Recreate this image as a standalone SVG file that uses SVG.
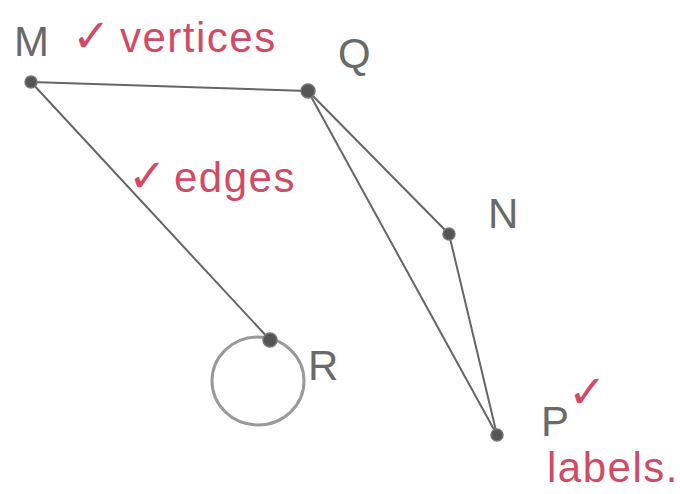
<svg xmlns="http://www.w3.org/2000/svg" width="680" height="494" viewBox="0 0 680 494">
<style>
.edge{stroke:#666;stroke-width:2;fill:none;stroke-linecap:round}
.loop{stroke:#9a9a9a;stroke-width:3;fill:none}
.vert{fill:#555;stroke:#777;stroke-width:1.5}
.lbl{font-family:"Liberation Sans",Arial,sans-serif;fill:#6a6a6a;font-size:42px}
.note{font-family:"Liberation Sans",Arial,sans-serif;fill:#d24a63;font-size:42px;letter-spacing:1.5px}
.chk{font-family:"DejaVu Sans",sans-serif;fill:#d24a63;font-size:46px}
</style>
<rect width="680" height="494" fill="#ffffff"/>
<g id="connectors">
<line class="edge" x1="31" y1="82" x2="308" y2="91"/>
<line class="edge" x1="31" y1="82" x2="270" y2="340"/>
<line class="edge" x1="308" y1="91" x2="449" y2="234"/>
<line class="edge" x1="308" y1="91" x2="497" y2="435"/>
<line class="edge" x1="449" y1="234" x2="497" y2="435"/>
<ellipse class="loop" cx="258" cy="381" rx="46" ry="44"/>
</g>
<g id="node-M"><circle class="vert" cx="31" cy="82" r="6"/><text class="lbl" x="14" y="56">M</text></g>
<g id="node-Q"><circle class="vert" cx="308" cy="91" r="7"/><text class="lbl" x="338" y="68">Q</text></g>
<g id="node-N"><circle class="vert" cx="449" cy="234" r="6"/><text class="lbl" x="488" y="228">N</text></g>
<g id="node-R"><circle class="vert" cx="270" cy="340" r="7"/><text class="lbl" x="308" y="380">R</text></g>
<g id="node-P"><circle class="vert" cx="497" cy="435" r="6"/><text class="lbl" x="541" y="436" font-size="38">P</text></g>
<g id="notes">
<text x="72" y="52"><tspan class="chk">✓</tspan><tspan class="note" x="120">vertices</tspan></text>
<text x="128" y="192"><tspan class="chk">✓</tspan><tspan class="note" x="174">edges</tspan></text>
<text class="chk" x="568" y="408">✓</text>
<text class="note" x="547" y="482" font-size="36">labels.</text>
</g>
</svg>
